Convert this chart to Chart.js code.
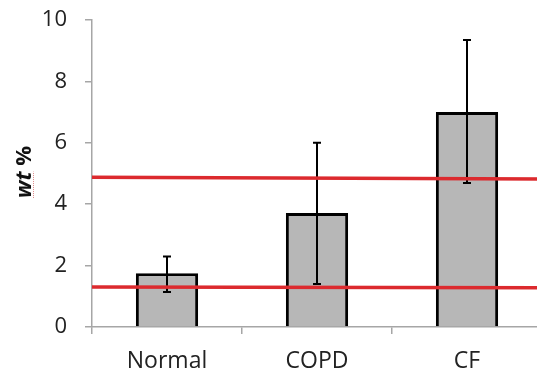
<!DOCTYPE html>
<html><head><meta charset="utf-8">
<script src="https://cdn.jsdelivr.net/npm/chart.js@4/dist/chart.umd.min.js"></script>
<style>html,body{margin:0;padding:0;background:#fff;overflow:hidden;width:537px;height:373px}#wrap{width:545px;height:373px}</style>
</head><body><div id="wrap"><canvas id="c" width="545" height="373"></canvas></div>
<script>
const categories = ['Normal', 'COPD', 'CF'];
const means = [1.75, 3.71, 7.0];
const errHigh = [2.3, 6.0, 9.35];
const errLow = [1.14, 1.4, 4.69];
const upperLine = [4.88, 4.82];
const lowerLine = [1.3, 1.28];
const yTicks = [0, 2, 4, 6, 8, 10];

const FONT = '"Open Sans", Lato, sans-serif';

const errorBars = {
  id: 'errorBars',
  afterDatasetDraw(chart, args) {
    if (args.index !== 0) return;
    const ctx = chart.ctx, y = chart.scales.y;
    const meta = chart.getDatasetMeta(0);
    ctx.save();
    ctx.strokeStyle = '#000';
    ctx.lineWidth = 2;
    meta.data.forEach((bar, i) => {
      const x = bar.x, yh = y.getPixelForValue(errHigh[i]), yl = y.getPixelForValue(errLow[i]);
      ctx.beginPath();
      ctx.moveTo(x, yh); ctx.lineTo(x, yl);
      ctx.moveTo(x - 4, yh); ctx.lineTo(x + 4, yh);
      ctx.moveTo(x - 4, yl); ctx.lineTo(x + 4, yl);
      ctx.stroke();
    });
    ctx.restore();
  }
};

const yTitle = {
  id: 'yTitle',
  afterDraw(chart) {
    const ctx = chart.ctx;
    ctx.save();
    ctx.translate(31, 172);
    ctx.rotate(-Math.PI / 2);
    ctx.fillStyle = '#111';
    ctx.textBaseline = 'alphabetic';
    ctx.font = 'italic bold 22px ' + FONT;
    const w1 = ctx.measureText('wt').width;
    ctx.font = 'bold 22px ' + FONT;
    const w2 = ctx.measureText(' %').width;
    const start = -(w1 + w2) / 2;
    ctx.font = 'italic bold 22px ' + FONT;
    ctx.fillText('wt', start, 0);
    ctx.font = 'bold 22px ' + FONT;
    ctx.fillText(' %', start + w1, 0);
    ctx.strokeStyle = '#d88';
    ctx.lineWidth = 1;
    ctx.setLineDash([1, 1]);
    ctx.beginPath();
    ctx.moveTo(start, 2.5); ctx.lineTo(start + w1, 2.5);
    ctx.stroke();
    ctx.restore();
  }
};

new Chart(document.getElementById('c'), {
  data: {
    labels: categories,
    datasets: [
      {
        type: 'bar', data: means, order: 2, grouped: false,
        backgroundColor: '#b7b7b7', borderColor: '#000', borderWidth: 3,
        barPercentage: 0.415, categoryPercentage: 1, xAxisID: 'x'
      },
      {
        type: 'line', order: 1, xAxisID: 'x2',
        data: [{x: 0, y: upperLine[0]}, {x: 1, y: upperLine[1]}],
        borderColor: '#dc2a2e', borderWidth: 3.5, pointRadius: 0, fill: false
      },
      {
        type: 'line', order: 1, xAxisID: 'x2',
        data: [{x: 0, y: lowerLine[0]}, {x: 1, y: lowerLine[1]}],
        borderColor: '#dc2a2e', borderWidth: 3.5, pointRadius: 0, fill: false
      }
    ]
  },
  options: {
    responsive: false, animation: false,
    layout: {padding: {top: 20, right: 3, left: 0, bottom: 0}},
    plugins: {legend: {display: false}, tooltip: {enabled: false}},
    scales: {
      x: {
        type: 'category', offset: true,
        grid: {display: true, drawOnChartArea: false, offset: true, tickLength: 7, color: '#a6a6a6', lineWidth: 1.5},
        border: {color: '#a6a6a6', width: 1.5},
        ticks: {font: {family: FONT, size: 23}, color: '#222', padding: 14},
        afterFit(s) { s.height = 46; s.paddingLeft = 0; s.paddingRight = 0; }
      },
      x2: {type: 'linear', display: false, min: 0, max: 1},
      y: {
        min: 0, max: 10,
        afterBuildTicks(s) { s.ticks = yTicks.map(v => ({value: v})); },
        grid: {display: true, drawOnChartArea: false, tickLength: 7, color: '#a6a6a6', lineWidth: 1.5},
        border: {color: '#a6a6a6', width: 1.5},
        ticks: {font: {family: FONT, size: 22}, color: '#222', padding: 18},
        afterFit(s) { s.width = 92; s.paddingTop = 0; s.paddingBottom = 0; }
      }
    }
  },
  plugins: [errorBars, yTitle]
});
</script></body></html>
